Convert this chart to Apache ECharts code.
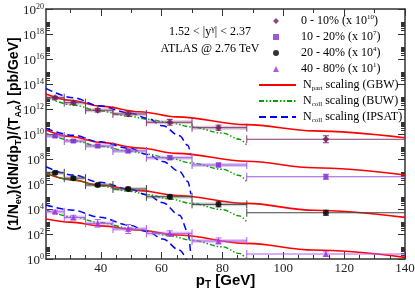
<!DOCTYPE html>
<html><head><meta charset="utf-8">
<script src="https://cdn.jsdelivr.net/npm/echarts@6/dist/echarts.min.js"></script>
<style>html,body{margin:0;padding:0;background:#fff}#c{width:415px;height:293px}</style>
</head><body><div id="c"></div>
<script>
// ---- data (pb/GeV, already multiplied by the legend scale factors) ----
const binEdges = [22, 28, 35, 44, 55, 70, 88, 140];
const ptX = [25, 31, 39, 49, 62.7, 78.7, 114];
const cent0_10  = [8e12, 3.2e12, 8e11, 4e11, 8.7e10, 3.2e10, 3.8e9];
const cent10_20 = [6.9e9, 2.75e9, 1.1e9, 4.4e8, 1.26e8, 3.3e7, 3.8e6];
const cent20_40 = [7.9e6, 2.95e6, 8.3e5, 4e5, 9.5e4, 2.35e4, 5e3];
const cent40_80 = [6e3, 2.1e3, 710, 250, 112, 27.5, 2.5];
// multiplicative error-bar half size
const err0_10  = [1.3, 1.35, 1.4, 1.5, 1.7, 1.6, 1.9];
const err10_20 = [1.3, 1.3, 1.35, 1.4, 1.45, 1.45, 1.6];
const err20_40 = [1.3, 1.3, 1.35, 1.4, 1.45, 1.6, 1.6];
const err40_80 = [1.35, 1.5, 2.0, 2.3, 1.6, 1.75, 1.5];

// theory curves
const gbwX = [22, 30, 40, 52.8, 65, 88, 110, 140];
const gbw0_10  = [1.58e13, 5.0e12, 1.7e12, 6.0e11, 2.34e11, 5.6e10, 1.78e10, 5.0e9];
const gbw10_20 = [2.09e10, 6.3e9, 2.14e9, 7.6e8, 2.82e8, 6.6e7, 2.0e7, 5.2e6];
const gbw20_40 = [7.1e6, 2.24e6, 7.9e5, 2.95e5, 1.2e5, 2.8e4, 7.9e3, 2.14e3];
const gbw40_80 = [1.58e3, 890, 447, 200, 83, 17.8, 5.2, 1.35];

const buwX = [22, 31, 39.4, 49.5, 55.4, 62.7, 69.8, 80, 85.6, 88.2];
const buw0_10  = [9.5e12, 2.04e12, 7.1e11, 2.63e11, 1.51e11, 7.8e10, 3.7e10, 1.2e10, 3.8e9, 1.12e9];
const buw10_20 = [1.12e10, 2.95e9, 1.07e9, 4.3e8, 2.4e8, 1.12e8, 4.8e7, 1.51e7, 4.8e6, 1.26e6];
const buw20_40 = [7.9e6, 2.0e6, 7.1e5, 2.63e5, 1.41e5, 6.3e4, 2.8e4, 8.9e3, 2.8e3, 790];
const buw40_80 = [8.3e3, 2.3e3, 850, 295, 158, 71, 31.6, 9.5, 2.8, 0.8];

const ipsX = [22, 31, 39.4, 49.5, 55.4, 60.4, 65.9, 68.6, 69.6];
const ips0_10  = [4.5e13, 7.9e12, 1.78e12, 4.8e11, 1.78e11, 4.5e10, 7.1e9, 1.26e9, 2.0e8];
const ips10_20 = [2.8e10, 7.9e9, 2.4e9, 7.1e8, 2.24e8, 6.3e7, 1.0e7, 1.58e6, 1.58e5];
const ips20_40 = [2.4e7, 5.2e6, 1.41e6, 4.0e5, 1.32e5, 3.16e4, 3.16e3, 160, 2.0];
const ips40_80 = [2.1e4, 7.9e3, 2.24e3, 500, 158, 40, 5.0, 0.5];

const xTickLabels = [40, 60, 80, 100, 120, 140];
const yTickExps = [0, 2, 4, 6, 8, 10, 12, 14, 16, 18, 20];

const legendLabels = {
  '0 - 10%': '{p|}0 - 10% (x 10{s|10})',
  '10 - 20%': '{p|}10 - 20% (x 10{s|7})',
  '20 - 40%': '{p|}20 - 40% (x 10{s|4})',
  '40 - 80%': '{p|}40 - 80% (x 10{s|1})',
  'GBW': '{q|}N{sub|part} scaling (GBW)',
  'BUW': '{q|}N{sub|coll} scaling (BUW)',
  'IPSAT': '{q|}N{sub|coll} scaling (IPSAT)'
};

// ---- build ----
const L = Math.log10;
const xMinor5 = []; for (let v = 25; v < 140; v += 5) if (v % 20 !== 0) xMinor5.push(v);
const xMinor10 = [30, 50, 70, 90, 110, 130];
const yMajor = []; for (let n = 0; n <= 20; n += 2) yMajor.push(n);
const yMinor = []; for (let n = 0; n < 20; n += 2) for (let k = 2; k <= 9; k++) yMinor.push(n + L(k));

const AX = '#333';
const serif = 'Liberation Serif, Times New Roman, serif';
const sans = 'Liberation Sans, Arial, sans-serif';

function curve(name, xs, vals, color, type, width) {
  return {
    name, type: 'line', z: 2, symbol: 'none', smooth: 0.35, smoothMonotone: 'x', clip: true,
    data: xs.map((x, i) => [x, L(vals[i])]),
    lineStyle: { color, width, type }, itemStyle: { color: 'rgba(0,0,0,0)', opacity: 0 }
  };
}
function errSeries(vals, errs, color, light) {
  return {
    type: 'custom', z: 3, silent: true, clip: true,
    data: vals.map((v, i) => [binEdges[i], binEdges[i + 1], ptX[i], L(v), L(v / errs[i]), L(v * errs[i]), i === vals.length - 1 ? 1 : 0]),
    encode: { x: [0, 1, 2], y: [3, 4, 5] },
    renderItem(params, api) {
      const y = api.value(3), last = api.value(6);
      const a = api.coord([api.value(0), y]), b = api.coord([api.value(1), y]);
      const lo = api.coord([api.value(2), api.value(4)]), hi = api.coord([api.value(2), api.value(5)]);
      const st = { stroke: color, lineWidth: 1 };
      const ch = [];
      if (!last) ch.push({ type: 'rect', shape: { x: a[0], y: a[1] - 2, width: b[0] - a[0], height: 4 }, style: { fill: light } });
      ch.push({ type: 'line', shape: { x1: a[0], y1: a[1], x2: b[0], y2: b[1] }, style: st });
      ch.push({ type: 'line', shape: { x1: a[0], y1: a[1] - 4, x2: a[0], y2: a[1] + 4 }, style: st });
      if (!last) ch.push({ type: 'line', shape: { x1: b[0], y1: b[1] - 4, x2: b[0], y2: b[1] + 4 }, style: st });
      ch.push({ type: 'line', shape: { x1: lo[0], y1: lo[1], x2: hi[0], y2: hi[1] }, style: st });
      ch.push({ type: 'line', shape: { x1: lo[0] - 3, y1: lo[1], x2: lo[0] + 3, y2: lo[1] }, style: st });
      ch.push({ type: 'line', shape: { x1: hi[0] - 3, y1: hi[1], x2: hi[0] + 3, y2: hi[1] }, style: st });
      return { type: 'group', children: ch };
    }
  };
}
function pts(name, vals, symbol, size, color) {
  return { name, type: 'scatter', z: 4, symbol, symbolSize: size, itemStyle: { color },
    data: vals.map((v, i) => [ptX[i], L(v)]) };
}

const RED = '#ff0000', GREEN = '#00a000', BLUE = '#0000ff';
const dashG = [5, 2, 1.5, 2, 1.5, 2];
const dashB = [7, 4];
const groups = [
  [gbw0_10, buw0_10, ips0_10], [gbw10_20, buw10_20, ips10_20],
  [gbw20_40, buw20_40, ips20_40], [gbw40_80, buw40_80, ips40_80]
];
const series = [];
groups.forEach(g => {
  series.push(curve('GBW', gbwX, g[0], RED, 'solid', 1.6));
  series.push(curve('BUW', buwX, g[1], GREEN, dashG, 1.4));
  series.push(curve('IPSAT', ipsX, g[2], BLUE, dashB, 1.5));
});
series.push(errSeries(cent0_10, err0_10, '#7d3a6f', 'rgba(150,100,140,0.35)'));
series.push(errSeries(cent10_20, err10_20, '#9a5ade', 'rgba(160,110,220,0.35)'));
series.push(errSeries(cent20_40, err20_40, '#444444', 'rgba(120,120,120,0.3)'));
series.push(errSeries(cent40_80, err40_80, '#b05ef0', 'rgba(180,110,240,0.35)'));
series.push(pts('0 - 10%', cent0_10, 'diamond', 7, '#6e1a5a'));
series.push(pts('10 - 20%', cent10_20, 'rect', 5, '#7f30d0'));
series.push(pts('20 - 40%', cent20_40, 'circle', 6, '#000000'));
series.push(pts('40 - 80%', cent40_80, 'triangle', 6, '#a030e8'));

function xAx(position, ticks, len, showLine, labels) {
  return {
    type: 'value', min: 22, max: 140, position,
    axisLine: { show: showLine, onZero: false, lineStyle: { color: AX, width: 1.5 } },
    axisTick: { show: true, inside: true, length: len, customValues: ticks, lineStyle: { color: AX, width: 1 } },
    axisLabel: labels ? { show: true, customValues: xTickLabels, margin: 3, fontFamily: serif, fontSize: 13, color: '#222' } : { show: false },
    splitLine: { show: false }
  };
}
function yAx(position, ticks, len, showLine, labels) {
  const o = {
    type: 'value', min: 0, max: 20, position,
    axisLine: { show: showLine, onZero: false, lineStyle: { color: AX, width: 1.5 } },
    axisTick: { show: true, inside: true, length: len, customValues: ticks, lineStyle: { color: AX, width: 1 } },
    axisLabel: { show: false },
    splitLine: { show: false }
  };
  if (labels) {
    o.axisLabel = {
      show: true, customValues: yTickExps, margin: 2, padding: [3, 0, 0, 0],
      formatter: v => '{b|10}{s|' + Math.round(v) + '}',
      rich: {
        b: { fontFamily: serif, fontSize: 13, color: '#222', lineHeight: 16 },
        s: { fontFamily: serif, fontSize: 8, color: '#222', lineHeight: 9, verticalAlign: 'top' }
      }
    };
    o.name = '(1/N{sub|ev})(dN/dp{sub|T})/⟨T{sub|AA}⟩ [pb/GeV]';
    o.nameLocation = 'middle';
    o.nameRotate = 90;
    o.nameGap = 23;
    o.nameMoveOverlap = false;
    o.nameTextStyle = {
      fontFamily: sans, fontWeight: 'bold', fontSize: 14, color: '#000', lineHeight: 18,
      rich: { sub: { fontFamily: sans, fontWeight: 'bold', fontSize: 9, color: '#000', lineHeight: 10, verticalAlign: 'bottom' } }
    };
  }
  return o;
}

const xs = [
  xAx('bottom', xTickLabels, 7, true, true),
  xAx('bottom', xMinor5, 4, false, false),
  xAx('top', xTickLabels, 7, true, false),
  xAx('top', xMinor10, 4, false, false)
];
xs[0].name = 'p{sub|T} [GeV]';
xs[0].nameLocation = 'middle';
xs[0].nameGap = 13;
xs[0].nameMoveOverlap = false;
xs[0].nameTextStyle = {
  fontFamily: sans, fontWeight: 'bold', fontSize: 15, color: '#000', lineHeight: 18,
  rich: { sub: { fontFamily: sans, fontWeight: 'bold', fontSize: 10, color: '#000', lineHeight: 10, verticalAlign: 'bottom' } }
};

const legendText = {
  fontFamily: serif, fontSize: 12, color: '#000', lineHeight: 14,
  rich: {
    p: { width: 17, lineHeight: 14 },
    q: { width: 2, lineHeight: 14 },
    s: { fontFamily: serif, fontSize: 7, color: '#000', lineHeight: 8, verticalAlign: 'top' },
    sub: { fontFamily: serif, fontSize: 7, color: '#000', lineHeight: 8, verticalAlign: 'bottom' }
  }
};

const option = {
  animation: false,
  backgroundColor: '#fff',
  grid: { left: 46, right: 10, top: 9, bottom: 34, containLabel: false, outerBoundsMode: 'none' },
  xAxis: xs,
  yAxis: [
    yAx('left', yMajor, 7, true, true),
    yAx('left', yMinor, 4, false, false),
    yAx('right', yMajor, 7, true, false),
    yAx('right', yMinor, 4, false, false)
  ],
  legend: [
    {
      data: ['0 - 10%', '10 - 20%', '20 - 40%', '40 - 80%'],
      orient: 'vertical', left: 273, top: 14, itemWidth: 6, itemHeight: 6, itemGap: 2,
      selectedMode: false, padding: 0,
      formatter: n => legendLabels[n], textStyle: legendText
    },
    {
      data: ['GBW', 'BUW', 'IPSAT'],
      orient: 'vertical', left: 258, top: 78, itemWidth: 37, itemHeight: 8, itemGap: 2,
      selectedMode: false, padding: 0,
      itemStyle: { opacity: 0 },
      formatter: n => legendLabels[n], textStyle: legendText
    }
  ],
  graphic: [
    { type: 'text', x: 210, y: 32, style: { text: '1.52 < |y{s|γ}| < 2.37', align: 'center', verticalAlign: 'middle',
      fontFamily: serif, fontSize: 12, fill: '#000', lineHeight: 14,
      rich: { s: { fontFamily: serif, fontSize: 8, fill: '#000', lineHeight: 8, verticalAlign: 'top' } } } },
    { type: 'text', x: 210, y: 49, style: { text: 'ATLAS @ 2.76 TeV', align: 'center', verticalAlign: 'middle',
      fontFamily: serif, fontSize: 12, fill: '#000' } }
  ],
  series
};
const chart = echarts.init(document.getElementById('c'), null, { renderer: 'canvas' });
chart.setOption(option);
</script>
</body></html>
